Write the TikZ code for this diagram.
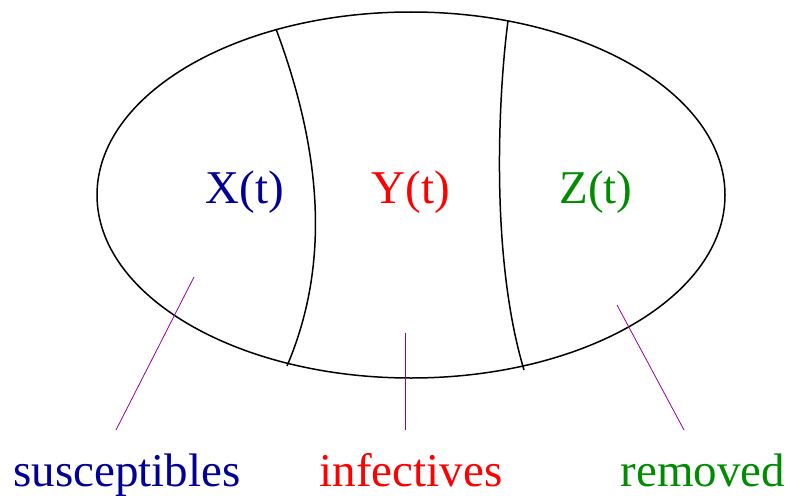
\documentclass[tikz,border=0pt]{standalone}
\usepackage{fontspec}
\setmainfont{Liberation Serif}
\usepackage{xcolor}
\usepackage{tikz}
\usetikzlibrary{positioning}

\definecolor{susblue}{RGB}{0,0,150}
\definecolor{infred}{RGB}{255,0,0}
\definecolor{remgreen}{RGB}{0,140,0}
\definecolor{pointer}{RGB}{150,0,150}

\begin{document}
\begin{tikzpicture}[x=1pt, y=-1pt, font=\fontsize{47}{51}\selectfont,
		lbl/.style={anchor=base, inner sep=0pt},
		border/.style={draw=black, line width=1.5pt},
		ptr/.style={draw=pointer, line width=0.8pt}]
		\useasboundingbox (0,0) rectangle (792,495);
		
		\draw[border] (411,195) ellipse [x radius=314, y radius=183];
		\draw[border] (276,29) .. controls (325,160) and (328,270) .. (287,366);
		\draw[border] (508,21) .. controls (500,80) and (488,250) .. (524,370);
		
		\node[lbl, text=susblue] (X) at (245,203) {X(t)};
		\node[lbl, text=infred] (Y) at (411,203) {Y(t)};
		\node[lbl, text=remgreen] (Z) at (596,203) {Z(t)};
		
		\node[lbl, text=susblue] (sus) at (127,486) {susceptibles};
		\node[lbl, text=infred] (inf) at (411,486) {infectives};
		\node[lbl, text=remgreen] (rem) at (703,486) {removed};
		
		\coordinate (susA) at (194,277);
		\coordinate (susB) at (116,430);
		\coordinate (infA) at (405,333);
		\coordinate (infB) at (405,430);
		\coordinate (remA) at (617,305);
		\coordinate (remB) at (684,430);
		\draw[ptr] (susA) -- (susB);
		\draw[ptr] (infA) -- (infB);
		\draw[ptr] (remA) -- (remB);
	\end{tikzpicture}
\end{document}
